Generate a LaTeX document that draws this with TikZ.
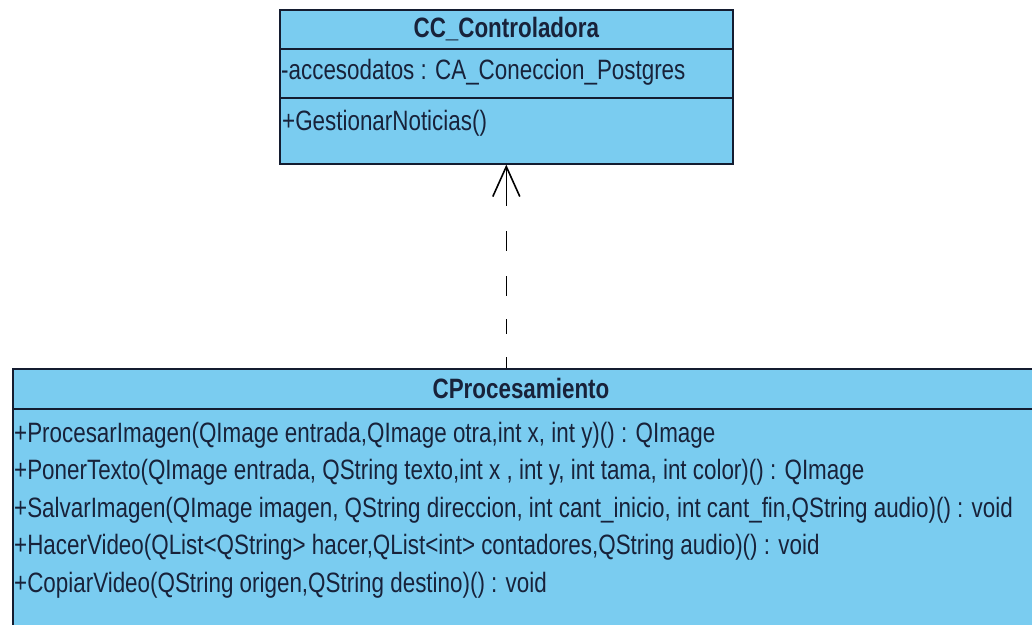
\documentclass[tikz,border=0pt]{standalone}
\usepackage{fontspec}
\setmainfont{Liberation Sans}[FakeStretch=0.80]
\usetikzlibrary{arrows.meta}
\definecolor{umlfill}{RGB}{122,204,240}
\definecolor{umlline}{RGB}{20,28,48}
\definecolor{umltext}{RGB}{24,34,58}
\tikzset{
  rowbox/.style={draw=umlline, line width=1.6pt, fill=umlfill, anchor=north west, inner sep=0pt},
  member/.style={anchor=west, inner sep=0pt, text=umltext, font=\fontsize{28}{32}\selectfont},
  classname/.style={inner sep=0pt, text=umltext, font=\fontsize{28}{32}\selectfont\bfseries},
  realize/.style={draw=black, line width=1.6pt,
    dash pattern=on 39pt off 25pt on 20pt off 25pt on 20pt off 23pt on 15pt off 23pt on 40pt off 10pt,
    {Straight Barb[length=30pt,width=27pt,line width=1.6pt]}-}
}
\begin{document}
\begin{tikzpicture}[x=1pt,y=-1pt]
  \clip (0,0) rectangle (1032,624);
  \fill[white] (0,0) rectangle (1032,624);

  % CC_Controladora
  \node[rowbox, minimum width=453pt, minimum height=39pt] (ctitle) at (279,9) {};
  \node[rowbox, minimum width=453pt, minimum height=49pt] (cattr) at (279,48) {};
  \node[rowbox, minimum width=453pt, minimum height=66pt] (cops) at (279,97) {};
  \node[classname] (ctitletext) at (ctitle.center) {CC\_Controladora};
  \node[member] (cattr1) at (281,72) {-accesodatos : CA\_Coneccion\_Postgres};
  \node[member] (cop1) at (282,123) {+GestionarNoticias()};

  % CProcesamiento
  \node[rowbox, minimum width=1024pt, minimum height=40pt] (ptitle) at (12,368) {};
  \node[rowbox, minimum width=1024pt, minimum height=230pt] (pops) at (12,408) {};
  \node[classname] (ptitletext) at (521,388) {CProcesamiento};
  \node[member] (pop1) at (14,435) {+ProcesarImagen(QImage entrada,QImage otra,int x, int y)() : QImage};
  \node[member] (pop2) at (14,472) {+PonerTexto(QImage entrada, QString texto,int x , int y, int tama, int color)() : QImage};
  \node[member] (pop3) at (14,510) {+SalvarImagen(QImage imagen, QString direccion, int cant\_inicio, int cant\_fin,QString audio)() : void};
  \node[member] (pop4) at (14,547) {+HacerVideo(QList<QString> hacer,QList<int> contadores,QString audio)() : void};
  \node[member] (pop5) at (14,585) {+CopiarVideo(QString origen,QString destino)() : void};

  % realization: CProcesamiento depends on CC_Controladora
  \draw[realize] (cops.south) -- (cops.south |- ptitle.north);
\end{tikzpicture}
\end{document}
